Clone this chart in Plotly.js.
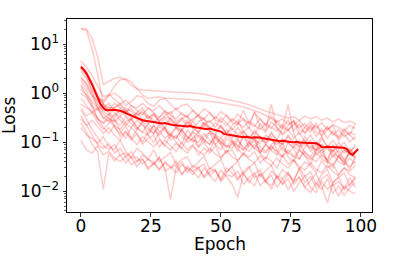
<!DOCTYPE html>
<html>
<head>
<meta charset="utf-8">
<script src="https://cdn.plot.ly/plotly-3.0.1.min.js"></script>
<style>html,body{margin:0;padding:0;background:#fff;}#chart{width:397px;height:273px;}</style>
</head>
<body>
<div id="chart"></div>
<script>
// Epoch indices
var epochs = [0,1,2,3,4,5,6,7,8,9,10,11,12,13,14,15,16,17,18,19,20,21,22,23,24,25,26,27,28,29,30,31,32,33,34,35,36,37,38,39,40,41,42,43,44,45,46,47,48,49,50,51,52,53,54,55,56,57,58,59,60,61,62,63,64,65,66,67,68,69,70,71,72,73,74,75,76,77,78,79,80,81,82,83,84,85,86,87,88,89,90,91,92,93,94,95,96,97,98,99];
var runEpochs = [0,2,4,6,8,10,12,14,16,18,20,22,24,26,28,30,32,34,36,38,40,42,44,46,48,50,52,54,56,58,60,62,64,66,68,70,72,74,76,78,80,82,84,86,88,90,92,94,96,98];

// Mean loss (bold line)
var meanLoss = [3.4,3.0,2.5,2.0,1.5,1.1,0.78,0.6,0.5,0.45,
  0.45,0.46,0.46,0.45,0.44,0.42,0.39,0.37,0.35,0.33,
  0.31,0.29,0.28,0.275,0.27,0.265,0.26,0.25,0.245,0.24,
  0.245,0.235,0.23,0.225,0.222,0.218,0.22,0.212,0.21,0.215,
  0.205,0.2,0.197,0.195,0.19,0.185,0.19,0.182,0.176,0.172,
  0.165,0.148,0.145,0.142,0.14,0.137,0.135,0.13,0.127,0.13,
  0.126,0.124,0.127,0.128,0.125,0.12,0.117,0.115,0.112,0.11,
  0.108,0.105,0.107,0.104,0.103,0.101,0.1,0.102,0.099,0.1,
  0.098,0.097,0.098,0.096,0.095,0.09,0.08,0.079,0.081,0.08,
  0.079,0.08,0.078,0.076,0.077,0.072,0.06,0.055,0.063,0.073];

// Individual runs (faint lines)
var run01 = [20,19,8,2.4,0.6,0.5,0.5,0.58,0.42,0.47,0.36,0.4,0.31,0.38,0.27,0.33,0.3,0.24,0.29,0.21,0.26,0.19,0.25,0.2,0.16,0.22,0.15,0.19,0.14,0.17,0.12,0.16,0.13,0.1,0.15,0.11,0.09,0.13,0.085,0.11,0.09,0.075,0.1,0.07,0.085,0.065,0.08,0.06,0.075,0.055];
var run02 = [21,20,13,5.5,1.5,1.7,2.0,2.1,1.85,1.45,1.22,1.16,1.14,1.13,1.12,1.1,1.1,1.07,1.05,1.04,1.0,0.98,0.95,0.9,0.84,0.8,0.76,0.72,0.68,0.63,0.58,0.52,0.47,0.43,0.4,0.37,0.34,0.31,0.33,0.28,0.34,0.3,0.33,0.28,0.31,0.26,0.3,0.25,0.27,0.24];
var run03 = [4.5,3.4,2.3,1.4,0.85,0.9,1.4,1.85,1.95,1.7,1.25,0.92,0.78,0.8,0.84,0.8,0.79,0.77,0.78,0.75,0.73,0.71,0.7,0.69,0.67,0.64,0.61,0.58,0.55,0.52,0.48,0.44,0.4,0.35,0.3,0.26,0.3,0.23,0.27,0.2,0.24,0.18,0.22,0.16,0.2,0.14,0.18,0.13,0.16,0.14];
var run04 = [3.8,2.6,1.5,0.85,0.62,0.88,1.0,0.82,0.56,0.68,0.88,0.84,0.62,0.54,0.72,0.78,0.6,0.46,0.56,0.6,0.44,0.36,0.48,0.4,0.3,0.42,0.34,0.27,0.37,0.3,0.24,0.4,0.29,0.22,0.34,0.24,0.19,0.29,0.17,0.24,0.15,0.21,0.13,0.19,0.12,0.17,0.11,0.15,0.1,0.13];
var run05 = [3.2,2.2,1.1,0.62,0.42,0.36,0.52,0.62,0.46,0.31,0.4,0.5,0.34,0.25,0.32,0.41,0.28,0.22,0.3,0.35,0.2,0.26,0.31,0.18,0.25,0.2,0.15,0.22,0.28,0.16,0.2,0.14,0.24,0.17,0.6,0.19,0.14,0.18,0.12,0.16,0.1,0.14,0.09,0.13,0.08,0.11,0.075,0.1,0.065,0.08];
var run06 = [2.0,1.6,1.0,0.5,0.3,0.38,0.28,0.22,0.33,0.25,0.18,0.27,0.2,0.15,0.24,0.19,0.13,0.2,0.16,0.11,0.17,0.13,0.1,0.16,0.12,0.09,0.14,0.11,0.08,0.13,0.1,0.075,0.12,0.09,0.07,0.11,0.2,0.58,0.15,0.08,0.11,0.065,0.09,0.06,0.08,0.05,0.07,0.045,0.06,0.05];
var run07 = [1.5,1.1,0.6,0.3,0.2,0.15,0.22,0.13,0.17,0.11,0.15,0.09,0.12,0.14,0.08,0.11,0.085,0.065,0.1,0.07,0.09,0.055,0.075,0.06,0.085,0.048,0.065,0.07,0.042,0.058,0.05,0.065,0.038,0.05,0.042,0.03,0.055,0.036,0.045,0.028,0.04,0.033,0.024,0.042,0.03,0.036,0.022,0.03,0.026,0.034];
var run08 = [1.0,0.8,0.55,0.45,0.6,0.4,0.32,0.48,0.35,0.28,0.4,0.3,0.24,0.36,0.26,0.2,0.32,0.22,0.18,0.28,0.2,0.16,0.25,0.17,0.14,0.22,0.15,0.12,0.2,0.14,0.11,0.18,0.12,0.1,0.16,0.11,0.09,0.14,0.1,0.08,0.13,0.09,0.07,0.12,0.08,0.065,0.1,0.07,0.06,0.09];
var run09 = [0.6,0.5,0.42,0.3,0.25,0.35,0.22,0.18,0.26,0.3,0.2,0.16,0.14,0.22,0.17,0.12,0.15,0.2,0.13,0.1,0.12,0.16,0.11,0.09,0.14,0.1,0.08,0.09,0.12,0.07,0.1,0.13,0.08,0.065,0.09,0.11,0.07,0.06,0.08,0.1,0.06,0.05,0.075,0.055,0.045,0.07,0.05,0.04,0.06,0.045];
var run10 = [0.45,0.3,0.18,0.12,0.085,0.07,0.09,0.055,0.06,0.048,0.05,0.036,0.045,0.04,0.028,0.038,0.03,0.034,0.022,0.03,0.026,0.032,0.019,0.025,0.028,0.016,0.022,0.02,0.026,0.014,0.019,0.024,0.013,0.017,0.021,0.012,0.018,0.011,0.016,0.02,0.012,0.0095,0.015,0.011,0.018,0.009,0.013,0.0085,0.012,0.015];
var run11 = [0.11,0.07,0.06,0.085,0.055,0.065,0.048,0.04,0.052,0.035,0.042,0.046,0.03,0.038,0.027,0.04,0.032,0.024,0.035,0.029,0.022,0.03,0.036,0.021,0.027,0.018,0.03,0.024,0.017,0.025,0.032,0.019,0.022,0.015,0.026,0.02,0.014,0.023,0.017,0.028,0.015,0.02,0.012,0.018,0.022,0.013,0.016,0.011,0.019,0.012];
var run12 = [0.25,0.16,0.09,0.065,0.011,0.06,0.042,0.055,0.038,0.05,0.032,0.045,0.028,0.036,0.05,0.026,0.03,0.042,0.022,0.033,0.025,0.019,0.03,0.021,0.016,0.027,0.02,0.014,0.0075,0.022,0.017,0.013,0.024,0.016,0.011,0.02,0.014,0.018,0.01,0.015,0.021,0.012,0.0095,0.016,0.011,0.014,0.008,0.013,0.01,0.009];
var run13 = [0.35,0.22,0.14,0.09,0.075,0.095,0.06,0.075,0.05,0.065,0.04,0.055,0.045,0.035,0.048,0.03,0.0068,0.03,0.04,0.024,0.034,0.028,0.02,0.03,0.026,0.017,0.025,0.032,0.018,0.024,0.015,0.022,0.028,0.016,0.013,0.021,0.018,0.025,0.014,0.019,0.012,0.017,0.023,0.013,0.0058,0.015,0.02,0.011,0.014,0.018];
var run14 = [1.2,0.9,0.7,0.5,0.38,0.3,0.26,0.34,0.24,0.2,0.28,0.22,0.18,0.15,0.21,0.17,0.14,0.12,0.18,0.13,0.11,0.1,0.15,0.11,0.09,0.12,0.085,0.075,0.11,0.08,0.065,0.09,0.07,0.06,0.085,0.06,0.05,0.07,0.052,0.045,0.065,0.048,0.04,0.055,0.042,0.035,0.05,0.038,0.032,0.042];
var run15 = [2.8,2.0,1.2,0.8,0.7,0.95,0.75,0.6,0.72,0.55,0.5,0.62,0.48,0.44,0.56,0.42,0.38,0.5,0.36,0.33,0.45,0.32,0.3,0.4,0.28,0.26,0.36,0.25,0.23,0.45,0.24,0.21,0.3,0.22,0.19,0.28,0.2,0.17,0.26,0.18,0.16,0.23,0.16,0.14,0.21,0.15,0.13,0.19,0.14,0.24];
var run16 = [0.8,0.55,0.4,0.5,0.32,0.26,0.38,0.28,0.22,0.3,0.2,0.16,0.24,0.18,0.14,0.2,0.15,0.12,0.18,0.13,0.1,0.14,0.11,0.09,0.13,0.1,0.08,0.11,0.085,0.07,0.1,0.075,0.062,0.09,0.068,0.055,0.08,0.06,0.05,0.07,0.052,0.044,0.062,0.046,0.038,0.055,0.04,0.034,0.048,0.036];
var run17 = [1.8,1.3,0.85,0.55,0.45,0.52,0.4,0.33,0.44,0.36,0.3,0.26,0.35,0.28,0.23,0.3,0.24,0.2,0.17,0.25,0.19,0.16,0.22,0.17,0.14,0.12,0.18,0.14,0.12,0.16,0.13,0.11,0.095,0.14,0.11,0.09,0.12,0.095,0.08,0.07,0.1,0.08,0.068,0.09,0.072,0.06,0.05,0.07,0.055,0.065];
var run18 = [0.2,0.14,0.12,0.095,0.13,0.08,0.07,0.11,0.065,0.05,0.075,0.06,0.045,0.07,0.04,0.05,0.062,0.035,0.045,0.05,0.03,0.04,0.052,0.028,0.035,0.045,0.024,0.032,0.04,0.022,0.03,0.038,0.02,0.026,0.034,0.018,0.028,0.022,0.016,0.03,0.02,0.025,0.014,0.022,0.028,0.015,0.019,0.024,0.013,0.02];
var run19 = [3.5,2.8,1.6,0.9,0.55,0.45,0.62,0.5,0.4,0.56,0.45,0.36,0.5,0.4,0.32,0.44,0.35,0.3,0.4,0.32,0.27,0.36,0.29,0.25,0.33,0.27,0.22,0.3,0.24,0.2,0.27,0.22,0.18,0.25,0.2,0.17,0.23,0.18,0.22,0.28,0.2,0.26,0.19,0.25,0.18,0.23,0.2,0.17,0.22,0.19];
var run20 = [0.3,0.22,0.28,0.2,0.15,0.2,0.14,0.11,0.16,0.12,0.09,0.13,0.1,0.08,0.11,0.085,0.07,0.095,0.075,0.06,0.085,0.065,0.055,0.075,0.058,0.048,0.068,0.05,0.042,0.06,0.045,0.038,0.054,0.04,0.034,0.048,0.036,0.03,0.043,0.032,0.027,0.038,0.028,0.024,0.034,0.025,0.021,0.03,0.022,0.019];
var run21 = [1.4,0.9,0.5,0.3,0.24,0.3,0.2,0.15,0.22,0.12,0.18,0.25,0.14,0.1,0.16,0.2,0.11,0.14,0.09,0.18,0.12,0.08,0.13,0.16,0.09,0.07,0.12,0.1,0.065,0.14,0.08,0.11,0.06,0.09,0.13,0.07,0.05,0.1,0.075,0.045,0.08,0.11,0.055,0.07,0.04,0.09,0.06,0.035,0.07,0.05];
var run22 = [0.5,0.35,0.4,0.25,0.18,0.24,0.3,0.17,0.12,0.2,0.15,0.1,0.16,0.22,0.12,0.085,0.14,0.1,0.075,0.12,0.16,0.08,0.1,0.065,0.13,0.09,0.06,0.1,0.075,0.055,0.09,0.12,0.06,0.045,0.08,0.065,0.1,0.05,0.04,0.07,0.055,0.035,0.065,0.085,0.04,0.03,0.055,0.045,0.028,0.05];
var run23 = [2.2,1.5,0.9,0.7,0.5,0.62,0.45,0.38,0.5,0.42,0.33,0.45,0.3,0.38,0.27,0.35,0.42,0.26,0.32,0.24,0.3,0.36,0.22,0.28,0.2,0.32,0.25,0.18,0.24,0.3,0.19,0.42,0.2,0.16,0.26,0.2,0.15,0.22,0.28,0.14,0.2,0.16,0.25,0.13,0.18,0.22,0.12,0.17,0.14,0.11];

var runs = [run01,run02,run03,run04,run05,run06,run07,run08,run09,run10,run11,run12,run13,run14,run15,run16,run17,run18,run19,run20,run21,run22,run23];

// Axis tick labels and titles
var xTickVals = [0,25,50,75,100];
var yTickVals = [0.01,0.1,1,10];
var yTickText = ['10<sup>\u22122</sup>','10<sup>\u22121</sup>','10<sup>0</sup>','10<sup>1</sup>'];
var xTitle = 'Epoch';
var yTitle = 'Loss';

var minorVals = [];
[0.001,0.01,0.1,1,10].forEach(function(d){ for (var k=2;k<=9;k++) minorVals.push(d*k); });

var traces = runs.map(function(r){
  return {x: runEpochs, y: r, type:'scatter', mode:'lines',
          line:{color:'rgba(255,0,0,0.2)', width:1.5}, hoverinfo:'skip', showlegend:false};
});
traces.push({x: epochs, y: meanLoss, type:'scatter', mode:'lines',
             line:{color:'#ff0000', width:2}, showlegend:false});

var font = {family:'"DejaVu Sans", sans-serif', size:17, color:'#000'};
var layout = {
  width:397, height:273,
  margin:{l:67, r:25, t:19, b:61, pad:0},
  paper_bgcolor:'#fff', plot_bgcolor:'#fff',
  font: font,
  showlegend:false,
  xaxis:{
    range:[-4.95,103.95], tickvals:xTickVals, ticktext:xTickVals.map(String),
    ticks:'outside', ticklen:3.5, tickwidth:0.8, tickcolor:'#000', ticklabelstandoff:-5,
    showline:true, linecolor:'#000', linewidth:1, mirror:true,
    showgrid:false, zeroline:false, tickfont:font
  },
  yaxis:{
    type:'log', range:[-2.42,1.509], tickvals:yTickVals, ticktext:yTickText,
    ticks:'outside', ticklen:3.5, tickwidth:0.8, tickcolor:'#000',
    minor:{tickvals:minorVals, ticks:'outside', ticklen:2, tickwidth:0.6, tickcolor:'#000', showgrid:false},
    showline:true, linecolor:'#000', linewidth:1, mirror:true,
    showgrid:false, zeroline:false, tickfont:font
  },
  annotations:[
    {text:xTitle, xref:'paper', yref:'paper', x:0.5, y:-0.165, xanchor:'center', yanchor:'middle',
     showarrow:false, font:font},
    {text:yTitle, xref:'paper', yref:'paper', x:-0.192, y:0.5, xanchor:'center', yanchor:'middle',
     textangle:-90, showarrow:false, font:font}
  ]
};
Plotly.newPlot('chart', traces, layout, {staticPlot:true, displayModeBar:false});
</script>
</body>
</html>
